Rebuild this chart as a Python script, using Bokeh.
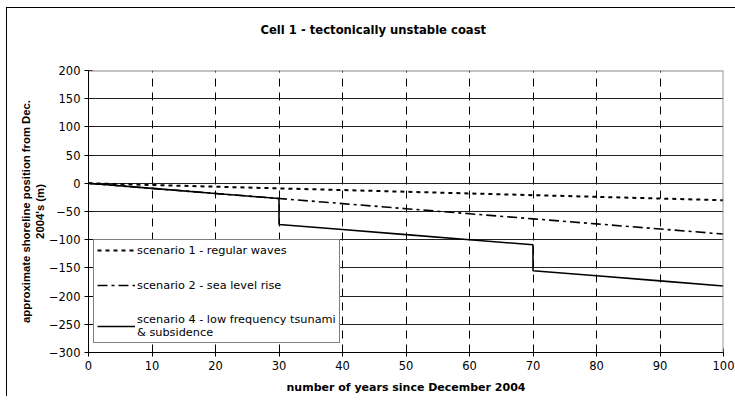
from bokeh.plotting import figure
from bokeh.models import Range1d, FixedTicker, Span, Legend, LegendItem, Title
from bokeh.embed import file_html
from bokeh.resources import INLINE

# ---- data ----
years = [0, 10, 20, 30, 40, 50, 60, 70, 80, 90, 100]
scenario1 = [0, -3, -6, -9, -12, -15, -18, -21, -24, -27, -30]
scenario2 = [0, -9, -18, -27, -36, -45, -54, -63, -72, -81, -90]
scenario4_years = [0, 10, 20, 30, 30, 40, 50, 60, 70, 70, 80, 90, 100]
scenario4 = [0, -9, -18, -27, -73, -82, -91, -100, -109, -155, -164, -173, -182]

x_ticks = [0, 10, 20, 30, 40, 50, 60, 70, 80, 90, 100]
y_ticks = [200, 150, 100, 50, 0, -50, -100, -150, -200, -250, -300]

title_text = "Cell 1 - tectonically unstable coast"
x_label = "number of years since December 2004"
y_label_1 = "approximate shoreline position from Dec."
y_label_2 = "2004's (m)"
labels = ["scenario 1 - regular waves", "scenario 2 - sea level rise",
          "scenario 4 - low frequency tsunami\n& subsidence"]

WIDE = "DejaVu Sans"
NARROW = "Liberation Sans"

p = figure(width=735, height=396, output_backend="svg", toolbar_location=None,
           x_range=Range1d(0, 100), y_range=Range1d(-300, 200),
           min_border_left=88, min_border_right=12, min_border_top=70,
           min_border_bottom=44)
# outer chart border (left and top edges) drawn behind a transparent border area
p.border_fill_alpha = 0
p.styles = {"background": "white",
            "box-shadow": "inset 6px 7px 0 0 white, inset 7px 8px 0 0 black"}
p.outline_line_color = None
p.background_fill_color = "white"

# axes
for ax in (p.xaxis[0], p.yaxis[0]):
    ax.axis_line_color = "black"
    ax.axis_line_width = 1
    ax.major_tick_line_color = "black"
    ax.major_tick_in = 4
    ax.major_tick_out = 4
    ax.minor_tick_line_color = None
    ax.major_label_text_font = WIDE
    ax.major_label_text_font_size = "11.5px"
    ax.major_label_text_color = "black"
p.xaxis.ticker = FixedTicker(ticks=x_ticks)
p.yaxis.ticker = FixedTicker(ticks=y_ticks)
p.xaxis.major_label_standoff = 4
p.yaxis.major_label_standoff = 4
p.xaxis.axis_label = x_label
p.xaxis.axis_label_text_font = WIDE
p.xaxis.axis_label_text_font_style = "bold"
p.xaxis.axis_label_text_font_size = "11px"
p.xaxis.axis_label_text_color = "black"
p.xaxis.axis_label_standoff = 8

# grids
p.xgrid.ticker = FixedTicker(ticks=x_ticks[1:-1])
p.xgrid.grid_line_color = "black"
p.xgrid.grid_line_dash = "8 6"
p.xgrid.grid_line_width = 1
p.ygrid.ticker = FixedTicker(ticks=y_ticks[1:-1])
p.ygrid.grid_line_color = "#222222"
p.ygrid.grid_line_width = 1

# gray top / right frame edges
p.add_layout(Span(location=200, dimension="width", line_color="#888888", line_width=2))
p.add_layout(Span(location=100, dimension="height", line_color="#999999", line_width=2))

# series
r1 = p.line(years, scenario1, line_color="black", line_width=2, line_dash="4 4")
r2 = p.line(years, scenario2, line_color="black", line_width=1.6, line_dash="10 4 3 4")
r4 = p.line(scenario4_years, scenario4, line_color="black", line_width=1.6)

legend = Legend(items=[LegendItem(label=labels[0], renderers=[r1]),
                       LegendItem(label=labels[1], renderers=[r2]),
                       LegendItem(label=labels[2], renderers=[r4])],
                location=(5, 9))
legend.border_line_color = "black"
legend.border_line_width = 1
legend.background_fill_color = "white"
legend.background_fill_alpha = 1
legend.label_text_font = WIDE
legend.label_text_font_size = "11.3px"
legend.label_text_color = "black"
legend.label_text_line_height = 1.25
legend.glyph_width = 38
legend.glyph_height = 14
legend.label_height = 14
legend.label_standoff = 2
legend.spacing = 21
legend.padding = 3
legend.margin = 0
p.add_layout(legend, "center")

# title (a blank spacer title sits between it and the frame)
p.add_layout(Title(text=" ", standoff=17, text_font=WIDE, text_font_size="12px"), "above")
p.add_layout(Title(text=title_text, align="left", offset=172, standoff=0,
                   vertical_align="middle",
                   text_font=WIDE, text_font_style="bold", text_font_size="11.6px",
                   text_color="black"), "above")
# two-line y-axis label
p.add_layout(Title(text=y_label_2, align="center", standoff=0,
                   text_font=NARROW, text_font_style="bold", text_font_size="11.3px",
                   text_color="black"), "left")
p.add_layout(Title(text=y_label_1, align="center", standoff=0,
                   text_font=NARROW, text_font_style="bold", text_font_size="11.3px",
                   text_color="black"), "left")

open("out.html", "w").write(file_html(p, INLINE))
